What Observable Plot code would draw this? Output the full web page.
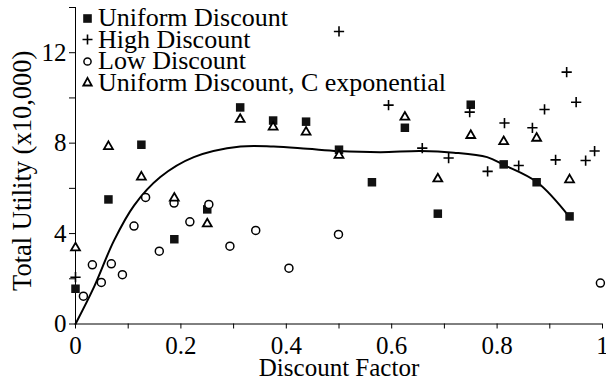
<!DOCTYPE html>
<html>
<head>
<meta charset="utf-8">
<script src="https://cdn.jsdelivr.net/npm/d3@7"></script>
<script src="https://cdn.jsdelivr.net/npm/@observablehq/plot@0.6"></script>
<style>
  html, body { margin: 0; padding: 0; background: #fff; }
  #wrap { position: relative; width: 606px; height: 381px; font-family: "Liberation Serif", "Times New Roman", serif; }
  .leg { position: absolute; left: 80px; height: 22px; display: flex; align-items: center; font-size: 26px; color: #000; white-space: nowrap; line-height: 22px; }
  .leg svg { width: 15px; height: 15px; margin-right: 3px; flex: none; }
</style>
</head>
<body>
<div id="wrap"></div>
<script>
// ---- Data ----
// Uniform Discount (filled squares)
const uniformX = [0, 0.0625, 0.125, 0.1875, 0.25, 0.3125, 0.375, 0.4375, 0.5, 0.5625, 0.625, 0.6875, 0.75, 0.8125, 0.875, 0.9375];
const uniformY = [1.56, 5.51, 7.93, 3.75, 5.07, 9.58, 9.0, 8.95, 7.71, 6.27, 8.68, 4.88, 9.70, 7.06, 6.27, 4.76];

// High Discount (plus)
const highX = [0, 0.500, 0.594, 0.658, 0.708, 0.748, 0.782, 0.814, 0.841, 0.867, 0.890, 0.911, 0.932, 0.950, 0.968, 0.985];
const highY = [2.07, 12.94, 9.68, 7.78, 7.34, 9.37, 6.75, 8.89, 7.01, 8.68, 9.49, 7.26, 11.14, 9.81, 7.23, 7.65];

// Low Discount (open circles)
const lowX = [0.015, 0.032, 0.049, 0.068, 0.089, 0.111, 0.133, 0.159, 0.187, 0.217, 0.253, 0.293, 0.342, 0.405, 0.499, 0.996];
const lowY = [1.23, 2.62, 1.84, 2.66, 2.18, 4.33, 5.60, 3.22, 5.35, 4.52, 5.29, 3.44, 4.14, 2.47, 3.96, 1.81];

// Uniform Discount, C exponential (open triangles)
const expX = [0, 0.0625, 0.125, 0.1875, 0.25, 0.3125, 0.375, 0.4375, 0.5, 0.625, 0.6875, 0.75, 0.8125, 0.875, 0.9375];
const expY = [3.37, 7.85, 6.50, 5.57, 4.43, 9.05, 8.71, 8.49, 7.46, 9.15, 6.42, 8.34, 8.07, 8.22, 6.38];

// Trend curve
const curveX = [0, 0.035, 0.073, 0.111, 0.161, 0.2245, 0.313, 0.376, 0.44, 0.4985, 0.579, 0.655, 0.718, 0.781, 0.8125, 0.876, 0.9375];
const curveY = [0, 1.63, 3.69, 5.24, 6.50, 7.38, 7.85, 7.85, 7.75, 7.65, 7.60, 7.65, 7.58, 7.38, 7.04, 6.27, 4.73];

// Ticks
const xTicks = [0, 0.1, 0.2, 0.3, 0.4, 0.5, 0.6, 0.7, 0.8, 0.9, 1];
const xTickLabels = {0: "0", 0.2: "0.2", 0.4: "0.4", 0.6: "0.6", 0.8: "0.8", 1: "1"};
const yTicks = [0, 2, 4, 6, 8, 10, 12, 14];
const yTickLabels = {0: "0", 4: "4", 8: "8", 12: "12"};

const xTitle = "Discount Factor";
const yTitle = "Total Utility (x10,000)";
const legendNames = ["Uniform Discount", "High Discount", "Low Discount", "Uniform Discount, C exponential"];

// ---- Build tables ----
const toRows = (xs, ys) => xs.map((x, i) => ({x, y: ys[i]}));
const uniform = toRows(uniformX, uniformY);
const high = toRows(highX, highY);
const low = toRows(lowX, lowY);
const expo = toRows(expX, expY);
const curve = toRows(curveX, curveY);

const chart = Plot.plot({
  width: 606,
  height: 381,
  marginLeft: 75,
  marginRight: 4,
  marginTop: 7,
  marginBottom: 57.5,
  style: {fontFamily: "Liberation Serif, Times New Roman, serif", fontSize: "25px", color: "#000", background: "transparent", overflow: "visible"},
  x: {domain: [0, 1]},
  y: {domain: [0, 14]},
  marks: [
    Plot.axisX({ticks: xTicks, tickFormat: d => xTickLabels[Math.round(d * 10) / 10] ?? "", tickSize: 5, tickPadding: 7, fontSize: 25,
      label: xTitle, labelAnchor: "center", labelOffset: 52, labelArrow: "none"}),
    Plot.axisY({ticks: yTicks, tickFormat: d => yTickLabels[d] ?? "", tickSize: 6, tickPadding: 3, fontSize: 25, label: null}),
    Plot.text([yTitle], {text: d => d, frameAnchor: "left", rotate: -90, textAnchor: "middle", lineAnchor: "top",
      dx: -63, dy: 5, fontSize: 26.5, fill: "#000"}),
    Plot.ruleX([0], {y1: 0, y2: 14, stroke: "#000", strokeWidth: 1}),
    Plot.ruleY([0], {x1: 0, x2: 1, stroke: "#000", strokeWidth: 1}),
    Plot.line(curve, {x: "x", y: "y", curve: "catmull-rom", stroke: "#000", strokeWidth: 2}),
    Plot.dot(uniform, {x: "x", y: "y", symbol: "square", r: 4.8, fill: "#111", stroke: "none"}),
    Plot.dot(high, {x: "x", y: "y", symbol: "plus", r: 3.4, stroke: "#000", strokeWidth: 1.6, fill: "none"}),
    Plot.dot(low, {x: "x", y: "y", symbol: "circle", r: 4, stroke: "#000", strokeWidth: 1.5, fill: "#fff"}),
    Plot.dot(expo, {x: "x", y: "y", symbol: "triangle", r: 3.3, stroke: "#000", strokeWidth: 1.8, fill: "#fff"})
  ]
});

const wrap = document.getElementById("wrap");
wrap.appendChild(chart);

// ---- Legend (HTML overlay) ----
const markerSvg = [
  '<svg viewBox="-7.5 -7.5 15 15"><rect x="-4.3" y="-4.3" width="8.6" height="8.6" fill="#111"/></svg>',
  '<svg viewBox="-7.5 -7.5 15 15"><path d="M-5,0H5M0,-5V5" stroke="#000" stroke-width="1.6"/></svg>',
  '<svg viewBox="-7.5 -7.5 15 15"><circle r="3.6" fill="#fff" stroke="#000" stroke-width="1.5"/></svg>',
  '<svg viewBox="-7.5 -7.5 15 15"><path d="M0,-4.6L4.2,3L-4.2,3Z" fill="#fff" stroke="#000" stroke-width="1.8"/></svg>'
];
const rowCenters = [18.3, 39.8, 61.3, 82.8];
legendNames.forEach((name, i) => {
  const row = document.createElement("div");
  row.className = "leg";
  row.style.top = (rowCenters[i] - 11) + "px";
  row.innerHTML = markerSvg[i] + "<span>" + name + "</span>";
  wrap.appendChild(row);
});
</script>
</body>
</html>
